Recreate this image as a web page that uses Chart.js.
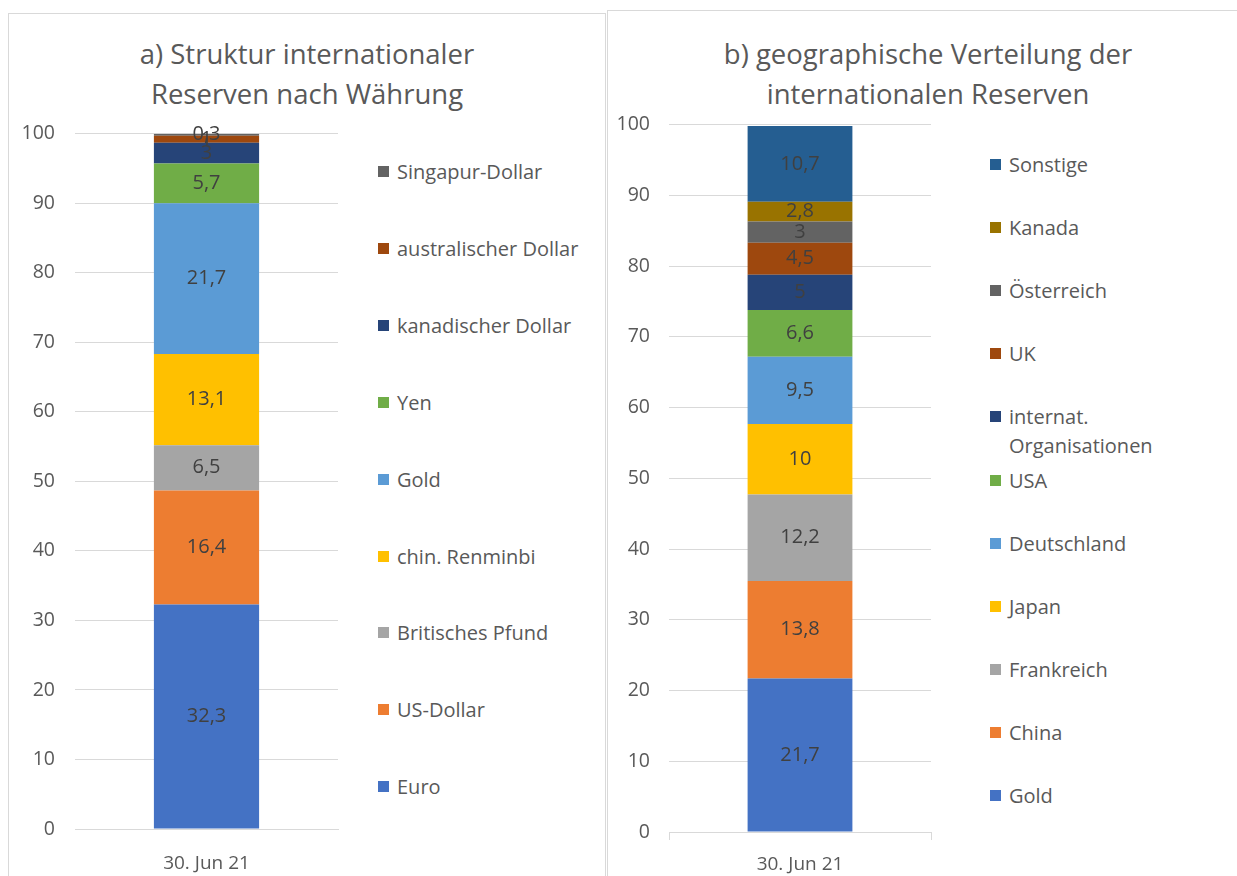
<!DOCTYPE html>
<html>
<head>
<meta charset="utf-8">
<script src="https://cdn.jsdelivr.net/npm/chart.js@4"></script>
<style>
  body { margin: 0; background: #fff; font-family: "Open Sans", sans-serif; }
  #wrap { position: relative; width: 1237px; height: 876px; overflow: hidden; }
  .panel { position: absolute; border: 1px solid #d9d9d9; box-sizing: border-box; }
  .title { position: absolute; text-align: center; color: #595959; font-size: 27.5px; line-height: 40px; }
  .legend { position: absolute; color: #595959; font-size: 20px; line-height: 29px; }
  .legend .item { position: absolute; left: 0; white-space: nowrap; }
  .legend .box { position: absolute; left: 0; top: 9px; width: 11px; height: 11px; }
  .legend .txt { position: absolute; left: 19px; top: 0; }
  canvas { position: absolute; }
</style>
</head>
<body>
<div id="wrap">
  <div class="panel" style="left:8px; top:13px; width:598px; height:880px;"></div>
  <div class="panel" style="left:607px; top:10px; width:660px; height:880px;"></div>
  <div class="title" style="left:8px; top:34px; width:598px;">a) Struktur internationaler<br>Reserven nach Währung</div>
  <div class="title" style="left:607px; top:34px; width:642px;">b) geographische Verteilung der<br>internationalen Reserven</div>
  <div id="legA" class="legend" style="left:378px; top:157px;"></div>
  <div id="legB" class="legend" style="left:990px; top:150px;"></div>
  <div style="position:absolute; left:8px; top:102px; width:332px; height:774px;"><canvas id="chartA"></canvas></div>
  <div style="position:absolute; left:607px; top:94px; width:326px; height:782px;"><canvas id="chartB"></canvas></div>
</div>
<script>
const categories = ['30. Jun 21'];

// a) Währung
const seriesA = ['Euro', 'US-Dollar', 'Britisches Pfund', 'chin. Renminbi', 'Gold', 'Yen', 'kanadischer Dollar', 'australischer Dollar', 'Singapur-Dollar'];
const valuesA = [32.3, 16.4, 6.5, 13.1, 21.7, 5.7, 3, 1, 0.3];
const colorsA = ['#4472C4', '#ED7D31', '#A5A5A5', '#FFC000', '#5B9BD5', '#70AD47', '#264478', '#9E480E', '#636363'];

// b) geographische Verteilung
const seriesB = ['Gold', 'China', 'Frankreich', 'Japan', 'Deutschland', 'USA', 'internat.\nOrganisationen', 'UK', 'Österreich', 'Kanada', 'Sonstige'];
const valuesB = [21.7, 13.8, 12.2, 10, 9.5, 6.6, 5, 4.5, 3, 2.8, 10.7];
const colorsB = ['#4472C4', '#ED7D31', '#A5A5A5', '#FFC000', '#5B9BD5', '#70AD47', '#264478', '#9E480E', '#636363', '#997300', '#255E91'];

const yTicks = [0, 10, 20, 30, 40, 50, 60, 70, 80, 90, 100];

const FONT = '"Open Sans", sans-serif';

const valueLabels = {
  id: 'valueLabels',
  afterDatasetsDraw(chart) {
    const ctx = chart.ctx;
    ctx.save();
    ctx.font = '20px ' + FONT;
    ctx.fillStyle = '#404040';
    ctx.textAlign = 'center';
    ctx.textBaseline = 'middle';
    chart.data.datasets.forEach((ds, i) => {
      const meta = chart.getDatasetMeta(i);
      meta.data.forEach((bar, j) => {
        const p = bar.getProps(['x', 'y', 'base'], true);
        ctx.fillText(String(ds.data[j]).replace('.', ','), p.x, (p.y + p.base) / 2);
      });
    });
    ctx.restore();
  }
};

function makeChart(id, series, values, colors, opt) {
  return new Chart(document.getElementById(id), {
    type: 'bar',
    data: {
      labels: categories,
      datasets: series.map((s, i) => ({
        label: s.replace('\n', ' '),
        data: [values[i]],
        backgroundColor: colors[i],
        barPercentage: 0.4,
        categoryPercentage: 1
      }))
    },
    options: {
      responsive: true,
      maintainAspectRatio: false,
      animation: false,
      layout: { padding: { top: 10, right: 2, left: 0, bottom: 0 } },
      scales: {
        x: {
          stacked: true,
          grid: { display: opt.xTicks, offset: true, drawOnChartArea: false, tickLength: 8, color: '#d9d9d9' },
          border: { color: '#d9d9d9' },
          ticks: { color: '#595959', font: { family: FONT, size: 19 }, padding: opt.xPad },
          afterFit(scale) { scale.height = opt.xHeight; }
        },
        y: {
          stacked: true,
          min: 0, max: 100,
          afterBuildTicks(scale) { scale.ticks = yTicks.map(v => ({ value: v })); },
          grid: { color: '#d9d9d9', drawTicks: false },
          border: { display: false },
          ticks: { color: '#595959', font: { family: FONT, size: 19.5 }, padding: opt.yPad },
          afterFit(scale) { scale.width = opt.yWidth; }
        }
      },
      plugins: { legend: { display: false }, tooltip: { enabled: false } }
    },
    plugins: [valueLabels]
  });
}

function makeLegend(id, series, colors, step) {
  const el = document.getElementById(id);
  const n = series.length;
  for (let k = 0; k < n; k++) {
    const i = n - 1 - k;
    const item = document.createElement('div');
    item.className = 'item';
    item.style.top = (k * step) + 'px';
    item.innerHTML = '<span class="box" style="background:' + colors[i] + '"></span><span class="txt">' + series[i].replace('\n', '<br>') + '</span>';
    el.appendChild(item);
  }
}

makeChart('chartA', seriesA, valuesA, colorsA, { xTicks: false, xPad: 15, xHeight: 47, yPad: 20, yWidth: 67 });
makeChart('chartB', seriesB, valuesB, colorsB, { xTicks: true, xPad: 13, xHeight: 44, yPad: 19, yWidth: 62 });
makeLegend('legA', seriesA, colorsA, 76.9);
makeLegend('legB', seriesB, colorsB, 63.1);
</script>
</body>
</html>
